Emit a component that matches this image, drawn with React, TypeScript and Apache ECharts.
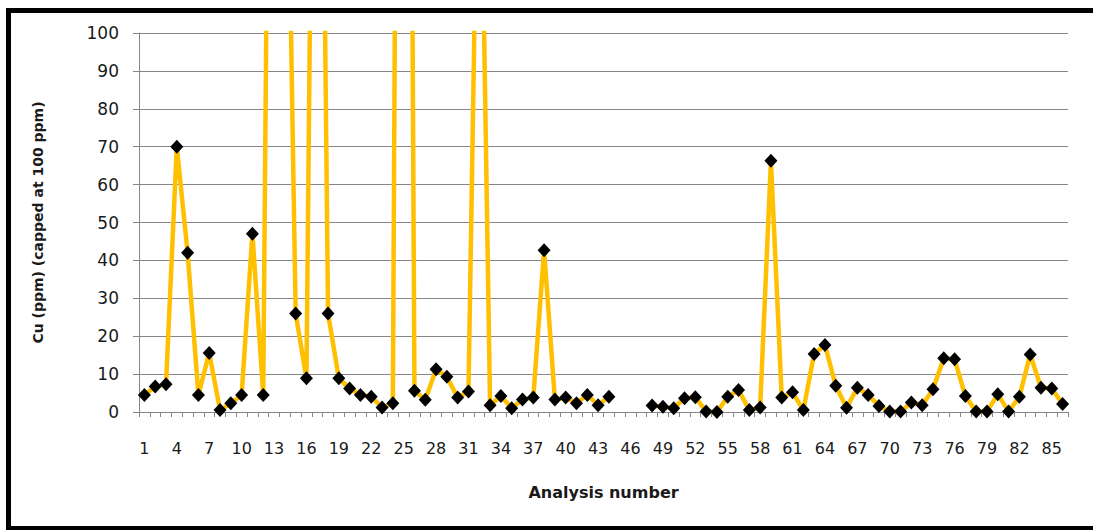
import React, { useEffect, useRef } from "react";
import * as echarts from "echarts";

const analysisNumbers: string[] = Array.from({ length: 86 }, (_, i) => String(i + 1));

const cuValues: (number | null)[] = [
  4.5, 6.7, 7.3, 70, 42, 4.5, 15.6, 0.5, 2.3, 4.5,
  47, 4.5, 350, 200, 26, 8.9, 300, 26, 8.9, 6.2,
  4.5, 4.0, 1.2, 2.3, 550, 5.6, 3.2, 11.3, 9.3, 3.8,
  5.4, 180, 1.8, 4.2, 1.0, 3.3, 3.8, 42.7, 3.3, 3.8,
  2.3, 4.5, 1.8, 4.0, null, null, null, 1.7, 1.4, 1.0,
  3.6, 3.9, 0.1, 0, 4.0, 5.8, 0.5, 1.2, 66.3, 3.8,
  5.2, 0.5, 15.3, 17.7, 6.9, 1.1, 6.4, 4.5, 1.6, 0.1,
  0.1, 2.5, 1.8, 6.0, 14.2, 13.9, 4.2, 0.1, 0.1, 4.7,
  0.1, 4.0, 15.2, 6.4, 6.2, 2.1,
];

const yMin = 0;
const yMax = 100;
const yStep = 10;

export default function App() {
  const ref = useRef<HTMLDivElement>(null);

  useEffect(() => {
    document.body.style.margin = "0";
    if (!ref.current) return;
    const chart = echarts.init(ref.current, undefined, { renderer: "svg" });
    chart.setOption({
      animation: false,
      backgroundColor: "#ffffff",
      grid: { left: 139, right: 25, top: 33, bottom: 118, containLabel: false },
      graphic: [
        {
          type: "rect",
          shape: { x: 8.5, y: 10.5, width: 1200, height: 518 },
          style: { fill: "none", stroke: "#000000", lineWidth: 5 },
          silent: true,
          z: 100,
        },
      ],
      xAxis: {
        type: "category",
        data: analysisNumbers,
        boundaryGap: true,
        name: "Analysis number",
        nameLocation: "middle",
        nameGap: 80,
        nameTextStyle: {
          fontFamily: "DejaVu Sans",
          fontWeight: "bold",
          fontSize: 16,
          color: "#1a1a1a",
          verticalAlign: "middle",
        },
        axisLine: { show: true, lineStyle: { color: "#868686", width: 1 } },
        axisTick: { show: true, interval: 0, length: 5, lineStyle: { color: "#868686" } },
        axisLabel: {
          interval: 2,
          margin: 28,
          fontFamily: "DejaVu Sans",
          fontSize: 16,
          color: "#1a1a1a",
        },
        splitLine: { show: false },
      },
      yAxis: {
        type: "value",
        min: yMin,
        max: yMax,
        interval: yStep,
        name: "Cu (ppm) (capped at 100 ppm)",
        nameLocation: "middle",
        nameGap: 101,
        nameTextStyle: {
          fontFamily: "DejaVu Sans",
          fontWeight: "bold",
          fontSize: 14,
          color: "#1a1a1a",
          verticalAlign: "middle",
        },
        axisLine: { show: true, lineStyle: { color: "#868686", width: 1 } },
        axisTick: { show: true, length: 6, lineStyle: { color: "#868686" } },
        axisLabel: {
          margin: 20,
          fontFamily: "DejaVu Sans",
          fontSize: 17,
          color: "#1a1a1a",
        },
        splitLine: { show: true, lineStyle: { color: "#868686", width: 1 } },
      },
      series: [
        {
          type: "line",
          data: cuValues,
          connectNulls: false,
          clip: true,
          symbol: "diamond",
          symbolSize: [13, 14],
          showSymbol: true,
          showAllSymbol: true,
          itemStyle: { color: "#000000", borderWidth: 0 },
          lineStyle: { color: "#FFC000", width: 4.5 },
          z: 3,
        },
      ],
    });
    return () => chart.dispose();
  }, []);

  return (
    <div
      ref={ref}
      style={{ position: "fixed", left: 0, top: 0, width: 1093, height: 530 }}
    />
  );
}
